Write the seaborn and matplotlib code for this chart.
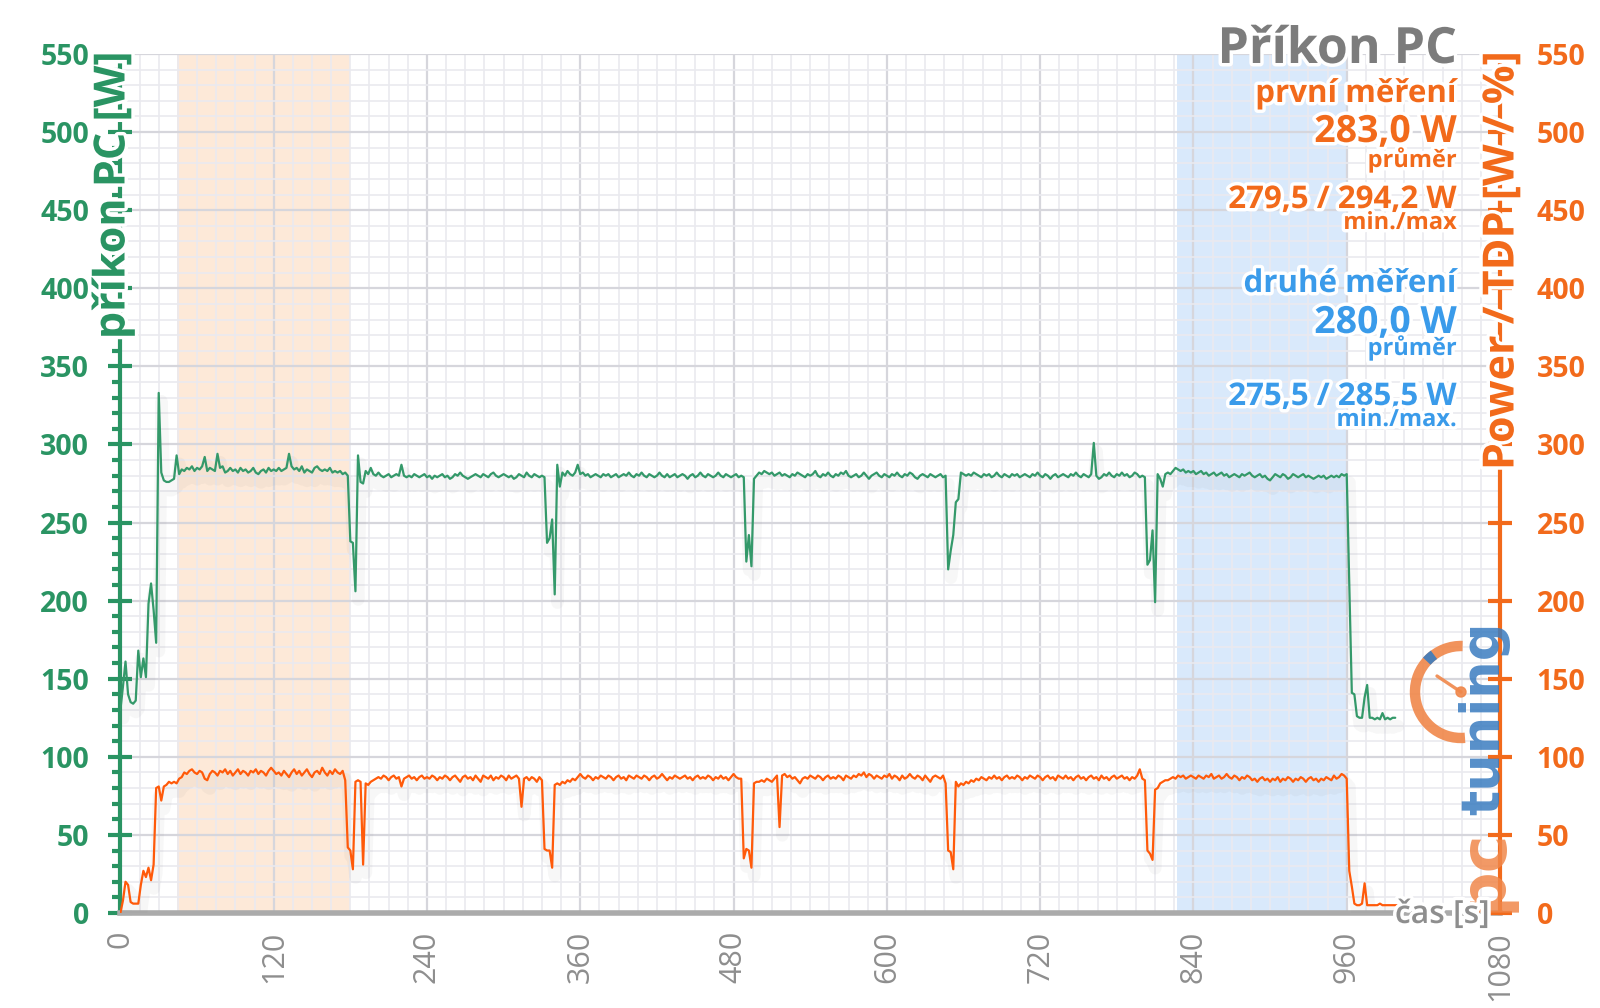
import numpy as np
import pandas as pd
import seaborn as sns
import matplotlib
matplotlib.use("Agg")
import matplotlib.pyplot as plt
from matplotlib import patheffects as pe
from matplotlib.patches import Arc, Circle
from matplotlib.ticker import MultipleLocator

sns.set_style("white")
plt.rcParams['font.family'] = ['Open Sans', 'DejaVu Sans']

# ---------------- data ----------------
SAMPLE_STEP = 2  # seconds between samples

# PC power draw [W], one value every 2 s starting at t = 0
pc_power = [
    130, 145, 161, 140, 135, 134, 136, 168, 151, 163,
    151, 198, 211, 194, 173, 333, 282, 277, 276, 276,
    277, 278, 293, 281, 284, 283, 285, 284, 286, 283,
    285, 284, 286, 292, 283, 285, 284, 283, 294, 285,
    286, 282, 283, 285, 283, 284, 282, 285, 283, 284,
    282, 283, 285, 282, 281, 283, 284, 282, 285, 283,
    284, 283, 285, 283, 284, 285, 294, 286, 284, 285,
    283, 286, 282, 284, 283, 282, 285, 286, 284, 283,
    284, 283, 285, 282, 283, 282, 283, 281, 282, 280,
    238, 237, 206, 293, 276, 275, 283, 281, 285, 281,
    280, 282, 280, 279, 280, 281, 279, 280, 281, 280,
    287, 280, 279, 280, 279, 281, 280, 279, 280, 281,
    279, 280, 278, 280, 279, 280, 281, 279, 280, 278,
    279, 281, 280, 282, 280, 279, 278, 279, 280, 281,
    280, 279, 281, 280, 279, 281, 282, 280, 279, 280,
    281, 280, 279, 280, 278, 279, 281, 280, 279, 282,
    280, 279, 281, 280, 279, 280, 279, 237, 240, 252,
    204, 287, 273, 282, 280, 283, 281, 280, 282, 287,
    281, 282, 280, 281, 279, 280, 281, 280, 279, 281,
    280, 281, 279, 280, 281, 279, 280, 281, 280, 282,
    280, 279, 281, 280, 282, 280, 279, 281, 280, 279,
    280, 282, 280, 279, 281, 279, 280, 281, 279, 280,
    281, 280, 278, 280, 281, 279, 280, 282, 280, 279,
    281, 280, 279, 280, 282, 280, 279, 281, 280, 279,
    280, 281, 279, 280, 279, 225, 242, 222, 278, 280,
    282, 281, 283, 282, 281, 282, 280, 281, 282, 280,
    281, 280, 279, 281, 280, 282, 281, 280, 279, 281,
    280, 281, 283, 280, 279, 281, 280, 282, 280, 279,
    281, 280, 282, 281, 283, 280, 279, 280, 281, 279,
    280, 282, 280, 278, 280, 281, 282, 280, 279, 281,
    280, 279, 281, 280, 282, 280, 279, 281, 280, 282,
    281, 279, 278, 280, 281, 280, 279, 281, 280, 279,
    280, 281, 279, 280, 220, 232, 242, 263, 265, 282,
    281, 280, 281, 280, 282, 281, 280, 279, 281, 280,
    281, 279, 280, 282, 280, 279, 281, 280, 279, 281,
    280, 281, 279, 280, 281, 280, 279, 281, 280, 282,
    280, 279, 281, 280, 278, 280, 281, 279, 280, 281,
    280, 279, 281, 280, 282, 280, 279, 281, 280, 279,
    281, 301, 280, 278, 279, 281, 280, 282, 280, 279,
    281, 280, 282, 280, 281, 279, 280, 282, 281, 279,
    280, 279, 223, 226, 245, 199, 281, 278, 273, 281,
    282, 281, 283, 285, 284, 283, 284, 282, 283, 282,
    283, 281, 282, 283, 281, 282, 280, 281, 282, 280,
    281, 282, 280, 281, 279, 280, 281, 280, 279, 281,
    280, 281, 282, 280, 279, 280, 281, 279, 280, 278,
    277, 279, 281, 280, 279, 281, 280, 278, 279, 281,
    280, 279, 280, 281, 279, 280, 279, 278, 279, 280,
    279, 280, 278, 279, 280, 279, 280, 279, 281, 280,
    281, 210, 141, 140, 126, 125, 125, 138, 146, 125,
    125, 124, 125, 124, 128, 124, 125, 124, 125, 125,
]

# Power / TDP [W / %], one value every 2 s starting at t = 0
power_tdp = [
    0, 8, 20, 18, 7, 6, 6, 6, 18, 27,
    23, 29, 21, 31, 80, 81, 72, 81, 82, 84,
    83, 84, 83, 86, 87, 90, 89, 91, 92, 90,
    89, 91, 90, 86, 85, 89, 91, 90, 88, 91,
    90, 92, 89, 91, 88, 90, 92, 89, 91, 90,
    88, 91, 90, 92, 89, 91, 90, 88, 91, 93,
    91, 89, 90, 88, 91, 89, 87, 90, 92, 89,
    91, 88, 90, 92, 89, 87, 90, 91, 89, 93,
    90, 88, 91, 89, 92, 90, 89, 91, 85, 42,
    40, 28, 84, 85, 84, 31, 83, 82, 84, 85,
    86, 87, 86, 88, 87, 85, 87, 88, 86, 87,
    81, 86, 87, 88, 86, 87, 85, 87, 88, 86,
    87, 86, 88, 87, 85, 87, 86, 88, 87, 85,
    87, 88, 86, 84, 87, 88, 86, 87, 85, 88,
    86, 84, 88, 87, 86, 88, 85, 87, 86, 88,
    87, 85, 88, 86, 87, 88, 86, 68, 86, 87,
    85, 87, 86, 84, 87, 85, 41, 40, 40, 29,
    82, 83, 82, 84, 83, 85, 84, 86, 85, 87,
    89, 87, 86, 88, 87, 85, 87, 86, 88, 87,
    86, 88, 87, 85, 87, 88, 86, 87, 85, 88,
    87, 86, 88, 87, 86, 88, 87, 85, 87, 88,
    86, 87, 89, 87, 85, 87, 86, 88, 87, 86,
    87, 88, 86, 87, 85, 87, 88, 86, 87, 86,
    88, 87, 85, 87, 86, 88, 86, 87, 85, 87,
    89, 87, 86, 86, 35, 41, 40, 29, 83, 84,
    84, 85, 84, 86, 85, 84, 86, 88, 55, 88,
    89, 87, 88, 86, 87, 85, 83, 86, 87, 86,
    88, 87, 86, 88, 87, 85, 87, 88, 86, 87,
    86, 88, 87, 85, 88, 87, 86, 88, 87, 89,
    88, 90, 87, 89, 88, 86, 88, 87, 86, 88,
    87, 89, 86, 88, 87, 85, 88, 86, 87, 89,
    87, 86, 88, 87, 85, 88, 86, 84, 87, 88,
    87, 86, 88, 83, 40, 39, 28, 84, 81, 83,
    82, 84, 83, 85, 84, 86, 85, 87, 86, 85,
    87, 86, 88, 86, 87, 85, 87, 88, 86, 87,
    86, 88, 87, 85, 87, 86, 88, 87, 86, 88,
    87, 85, 87, 88, 86, 87, 85, 88, 87, 86,
    88, 86, 87, 85, 87, 88, 86, 87, 85, 87,
    88, 86, 87, 85, 88, 86, 87, 85, 87, 88,
    86, 87, 88, 86, 87, 85, 87, 86, 88, 92,
    86, 85, 40, 38, 34, 79, 80, 83, 84, 85,
    85, 86, 87, 86, 88, 87, 88, 86, 87, 88,
    87, 86, 88, 87, 86, 88, 87, 89, 86, 87,
    88, 86, 87, 89, 87, 86, 88, 87, 85, 87,
    86, 88, 87, 85, 86, 84, 86, 87, 85, 86,
    84, 86, 85, 87, 84, 86, 85, 87, 86, 84,
    86, 85, 87, 86, 84, 86, 87, 85, 86, 84,
    86, 85, 87, 86, 85, 88, 86, 87, 89, 88,
    86, 27, 17, 6, 5, 5, 6, 19, 5, 5,
    5, 5, 5, 6, 5, 5, 5, 5, 5, 5,
    5, 5, 5, 5, 5, 5, 5,
]

first_run_span = [44, 180]     # s, highlighted "první měření"
second_run_span = [827, 960]   # s, highlighted "druhé měření"
x_ticks = [0, 120, 240, 360, 480, 600, 720, 840, 960, 1080]
y_ticks = [0, 50, 100, 150, 200, 250, 300, 350, 400, 450, 500, 550]

title_text = "Příkon PC"
first_lines = ["první měření", "283,0 W", "průměr", "279,5 / 294,2 W", "min./max"]
second_lines = ["druhé měření", "280,0 W", "průměr", "275,5 / 285,5 W", "min./max."]

# ---------------- styling ----------------
GREEN = "#2A9463"
GREEN_LINE = "#34996A"
ORANGE = "#F26A1B"
ORANGE_LINE = "#FF5A0A"
BLUE = "#3A9BEA"
GRAY_T = "#7C7C7C"
GRAY_AX = "#ABABAB"
GRAY_LBL = "#8E8E8E"

df_pc = pd.DataFrame({"t": np.arange(len(pc_power)) * SAMPLE_STEP, "w": pc_power})
df_tdp = pd.DataFrame({"t": np.arange(len(power_tdp)) * SAMPLE_STEP, "w": power_tdp})

W, H = 1600, 1008
fig = plt.figure(figsize=(W / 100, H / 100), dpi=100)
fig.patch.set_facecolor("white")
ax_l, ax_r, ax_t, ax_b = 120.4, 1500, 54, 913
ax = fig.add_axes([ax_l / W, 1 - ax_b / H, (ax_r - ax_l) / W, (ax_b - ax_t) / H])
ax2 = ax.twinx()

# highlighted spans
ax.axvspan(*first_run_span, color="#FDE9D8", zorder=0.2, lw=0)
ax.axvspan(*second_run_span, color="#D9E9FB", zorder=0.2, lw=0)

# grid
ax.set_axisbelow(True)
ax.xaxis.set_minor_locator(MultipleLocator(15))
ax.yaxis.set_minor_locator(MultipleLocator(10))
ax.grid(which="major", color="#D6D6DC", lw=1.6, zorder=0.5)
ax.grid(which="minor", color="#EAEAEF", lw=1.2, zorder=0.4)

shadow = [pe.SimpleLineShadow(offset=(2, -6), shadow_color="#808080", alpha=0.06, linewidth=9),
          pe.Normal()]

sns.lineplot(data=df_pc, x="t", y="w", ax=ax, color=GREEN_LINE, lw=1.6,
             path_effects=shadow, zorder=3)
sns.lineplot(data=df_tdp, x="t", y="w", ax=ax2, color=ORANGE_LINE, lw=1.6,
             path_effects=shadow, zorder=3)

for a in (ax, ax2):
    a.set_xlim(0, 1080)
    a.set_ylim(0, 550)
    a.set_xlabel("")
    a.set_ylabel("")
ax.set_yticks(y_ticks)
ax2.set_yticks(y_ticks)
ax.set_xticks(x_ticks)

# spines
for s in ["top", "right"]:
    ax.spines[s].set_visible(False)
for s in ["top", "left", "bottom"]:
    ax2.spines[s].set_visible(False)
ax.spines["left"].set_color(GREEN)
ax.spines["left"].set_linewidth(3)
ax.spines["bottom"].set_color(GRAY_AX)
ax.spines["bottom"].set_linewidth(4)
ax2.spines["right"].set_color(ORANGE)
ax2.spines["right"].set_linewidth(3)

# ticks
ax.tick_params(axis="y", which="major", direction="inout", length=17, width=3,
               color=GREEN, labelcolor=GREEN, labelsize=20.5, pad=14)
ax.tick_params(axis="y", which="minor", direction="out", length=6, width=3, color=GREEN)
ax2.tick_params(axis="y", which="major", direction="inout", length=17, width=3,
                color=ORANGE, labelcolor=ORANGE, labelsize=20.5, pad=18)
ax2.tick_params(axis="y", which="minor", direction="in", length=5, width=3, color=ORANGE)
ax.tick_params(axis="x", which="major", direction="out", length=8, width=4,
               color=GRAY_AX, labelcolor=GRAY_LBL, labelsize=22, labelrotation=90, pad=5)
ax.tick_params(axis="x", which="minor", length=0)
for lab in ax.get_yticklabels() + ax2.get_yticklabels():
    lab.set_fontweight("bold")

glow = [pe.withStroke(linewidth=5, foreground="white")]

# logo (pctuning) - drawn below axis titles
lax = fig.add_axes([(1461 - 60) / W, 1 - (692 + 60) / H, 120 / W, 120 / H])
lax.set_xlim(-60, 60)
lax.set_ylim(-60, 60)
lax.axis("off")
lax.patch.set_alpha(0)
lax.add_patch(Arc((0, 0), 92, 92, theta1=88, theta2=275, color="#F0874A", lw=7.5, alpha=0.9))
lax.add_patch(Arc((0, 0), 92, 92, theta1=126, theta2=138, color="#3A7CC0", lw=7.5, alpha=0.9))
lax.plot([0, -24], [0, 16], color="#F0874A", lw=2.4, alpha=0.9)
lax.add_patch(Circle((0, 0), 5, color="#F0874A", alpha=0.9))
fig.text(1484 / W, 1 - 912 / H, "pc", rotation=90, ha="center", va="bottom",
         color="#F0874A", fontsize=46, fontweight="bold", alpha=0.85, zorder=1,
         family="DejaVu Sans")
fig.text(1484 / W, 1 - 815 / H, "tuning", rotation=90, ha="center", va="bottom",
         color="#3A7CC0", fontsize=38, fontweight="bold", alpha=0.85, zorder=1,
         family="DejaVu Sans")

# axis titles
fig.text(113 / W, 1 - 52 / H, "příkon PC [W]", rotation=90, ha="center", va="top",
         color=GREEN, fontsize=31, fontweight="bold", path_effects=glow, zorder=10)
fig.text(1502 / W, 1 - 52 / H, "Power / TDP [W / %]", rotation=90, ha="center", va="top",
         color=ORANGE, fontsize=31, fontweight="bold", path_effects=glow, zorder=10)
fig.text(1490 / W, 1 - 923 / H, "čas [s]", ha="right", va="baseline",
         color=GRAY_LBL, fontsize=23, fontweight="semibold", path_effects=glow, zorder=10)

# text block on the right
RX = 1457 / W
fig.text(RX, 1 - 63 / H, title_text, ha="right", va="baseline", color=GRAY_T,
         fontsize=36, fontweight="bold", path_effects=glow, zorder=10)
block_specs = [(102, 22.5), (142, 27), (167, 17), (208, 22.5), (229, 17)]
for txt, (base, fs) in zip(first_lines, block_specs):
    fig.text(RX, 1 - base / H, txt, ha="right", va="baseline", color=ORANGE,
             fontsize=fs, fontweight="bold", path_effects=glow, zorder=10)
block_specs2 = [(292, 22.5), (333, 27), (355, 17), (405, 22.5), (426, 17)]
for txt, (base, fs) in zip(second_lines, block_specs2):
    fig.text(RX, 1 - base / H, txt, ha="right", va="baseline", color=BLUE,
             fontsize=fs, fontweight="bold", path_effects=glow, zorder=10)

fig.savefig("out.png", dpi=100, facecolor="white")
